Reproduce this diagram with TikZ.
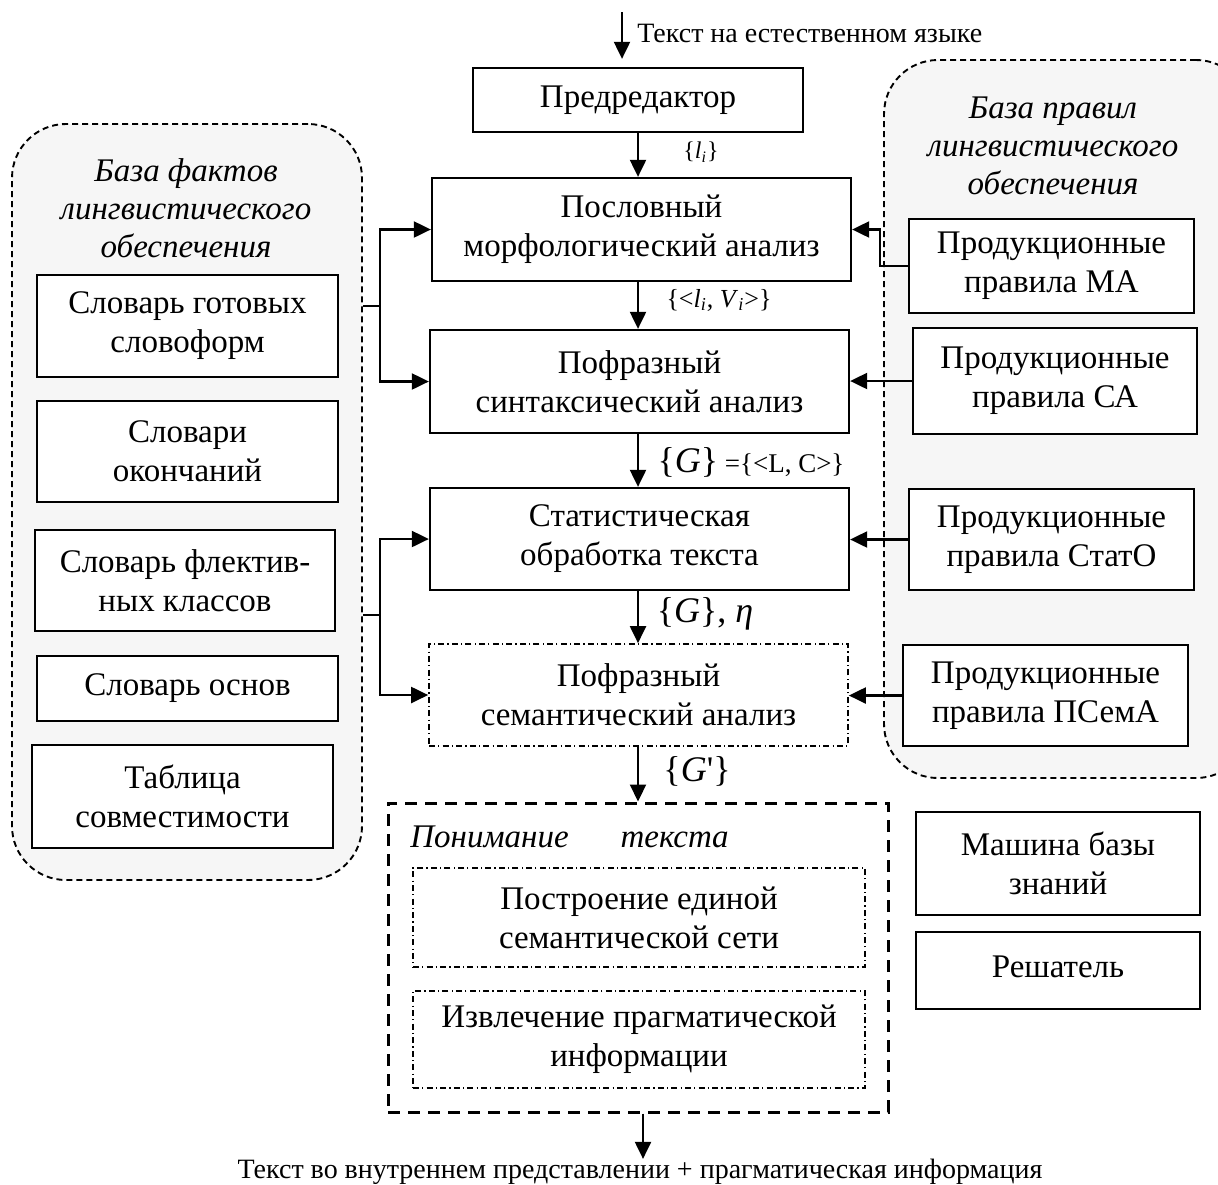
\documentclass[tikz,border=0pt]{standalone}
\usepackage{fontspec}
\setmainfont{Liberation Serif}
\usetikzlibrary{arrows.meta}
\begin{document}
\begin{tikzpicture}[x=0.5pt,y=-0.5pt,
  font=\fontsize{16.5}{19.5}\selectfont,
  blk/.style={draw, line width=1.15pt, fill=white, align=center, inner sep=0pt, rectangle},
  ddbox/.style={draw, line width=0.85pt, dash pattern=on 3pt off 1.6pt on 0.6pt off 1.6pt, fill=white, align=center, inner sep=0pt, rectangle},
  region/.style={draw, line width=0.95pt, dash pattern=on 3pt off 2pt, fill=gray!7, rounded corners=27pt, rectangle, inner sep=0pt},
  outer/.style={draw, line width=1.5pt, dash pattern=on 6pt off 4pt, fill=white, rectangle, inner sep=0pt},
  arr/.style={line width=1.05pt, -{Triangle[length=8.5pt,width=8pt]}},
  lnk/.style={line width=1.05pt},
  ttl/.style={font=\fontsize{16.5}{19}\selectfont\itshape, align=center, inner sep=0pt},
  lbl/.style={inner sep=0pt},
  small/.style={font=\fontsize{14}{16}\selectfont, inner sep=0pt},
]
\useasboundingbox (0,0) rectangle (1218,1184);
\fill[white] (0,0) rectangle (1218,1184);

% knowledge bases (shaded dashed regions)
\node[region, minimum width=175pt, minimum height=378pt] (lreg) at (187,502) {};
\node[region, minimum width=183pt, minimum height=359pt] (rreg) at (1067,419) {};

\node[ttl] (ltitle) at (186,208) {База фактов\\лингвистического\\обеспечения};
\node[ttl] (rtitle) at (1053,146) {База правил\\лингвистического\\обеспечения};

% dictionaries
\node[blk, minimum width=150.5pt, minimum height=51pt] (d1) at (187.5,326) {Словарь готовых\\словоформ};
\node[blk, minimum width=150.5pt, minimum height=50.5pt] (d2) at (187.5,451.5) {Словари\\окончаний};
\node[blk, minimum width=150pt, minimum height=50.5pt] (d3) at (185,580.5) {Словарь флектив-\\ных классов};
\node[blk, minimum width=150.5pt, minimum height=32.5pt] (d4) at (187.5,688.5) {Словарь основ};
\node[blk, minimum width=150.5pt, minimum height=51.5pt] (d5) at (182.5,796.5) {Таблица\\совместимости};

% production rules
\node[blk, minimum width=142.5pt, minimum height=47pt] (rma) at (1051.5,266) {Продукционные\\правила МА};
\node[blk, minimum width=142pt, minimum height=53pt] (rsa) at (1055,381) {Продукционные\\правила СА};
\node[blk, minimum width=142.5pt, minimum height=50.5pt] (rst) at (1051.5,539.5) {Продукционные\\правила СтатО};
\node[blk, minimum width=142.5pt, minimum height=50.5pt] (rsem) at (1045.5,695.5) {Продукционные\\правила ПСемА};

% knowledge machine and solver
\node[blk, minimum width=142pt, minimum height=51.5pt] (kbm) at (1058,863.5) {Машина базы\\знаний};
\node[blk, minimum width=142pt, minimum height=38.5pt] (solver) at (1058,970.5) {\raisebox{3.5pt}{Решатель}};

% main processing chain
\node[blk, minimum width=165pt, minimum height=32pt] (pre) at (638,100) {Предредактор};
\node[blk, minimum width=209.5pt, minimum height=51.5pt] (ma) at (641.5,229.5) {Пословный\\морфологический анализ};
\node[blk, minimum width=209.5pt, minimum height=51.5pt] (sa) at (639.5,381.5) {Пофразный\\синтаксический анализ};
\node[blk, minimum width=209.5pt, minimum height=51pt] (st) at (639.5,539) {Статистическая\\обработка текста};
\node[ddbox, minimum width=209.5pt, minimum height=51pt] (sem) at (638.5,695) {Пофразный\\семантический анализ};

% text understanding block
\node[outer, minimum width=250pt, minimum height=154.5pt] (und) at (638,957.5) {};
\node[ttl, anchor=west] (utitle) at (410,837) {Понимание\hspace{26pt}текста};
\node[ddbox, minimum width=226pt, minimum height=49.5pt] (u1) at (639,917.5) {Построение единой\\семантической сети};
\node[ddbox, minimum width=226pt, minimum height=48.5pt] (u2) at (639,1039.5) {Извлечение прагматической\\информации};

% input and output
\coordinate (intop) at (622,12);
\node[small, anchor=west] (intext) at (637,33) {Текст на естественном языке};
\node[small] (outtext) at (640,1172) {Текст во внутреннем представлении + прагматическая информация};

% vertical flow
\draw[arr] (intop) -- (intop |- pre.north) [shorten >=4pt];
\draw[arr] (pre.south) -- (pre.south |- ma.north);
\draw[arr] (pre.south |- ma.south) -- (pre.south |- sa.north);
\draw[arr] (pre.south |- sa.south) -- (pre.south |- st.north);
\draw[arr] (pre.south |- st.south) -- (pre.south |- sem.north);
\draw[arr] (pre.south |- sem.south) -- (pre.south |- und.north);
\draw[arr] (und.south) ++(5,0) coordinate (uo) -- (uo |- outtext.north);

% flow labels
\node[lbl, font=\fontsize{12}{14}\selectfont] (l1) at (701,152) {\{\textit{l}\textsubscript{\textit{i}}\}};
\node[lbl, font=\fontsize{13}{15}\selectfont] (l2) at (719,300) {\{<\textit{l}\textsubscript{\textit{i}}, \textit{V}\textsubscript{\textit{i}}>\}};
\node[lbl, font=\fontsize{13.5}{15}\selectfont] (l3) at (751,462) {{\fontsize{18}{18}\selectfont\{\textit{G}\}} =\{<L, C>\}};
\node[lbl, font=\fontsize{18}{20}\selectfont] (l4) at (705,614) {\{\textit{G}\}, \textit{η}};
\node[lbl, font=\fontsize{18}{20}\selectfont] (l5) at (697,771) {\{\textit{G}\textquotesingle\}};

% facts feed the analysers
\coordinate (j1) at (380,306);
\coordinate (j2) at (380,615);
\draw[lnk] (j1 -| lreg.east) -- (j1);
\draw[arr] (j1) |- (ma.west);
\draw[arr] (j1) |- (sa.west);
\draw[lnk] (j2 -| lreg.east) -- (j2);
\draw[arr] (j2) |- (st.west);
\draw[arr] (j2) |- (sem.west);

% rules feed the analysers
\coordinate (k1) at (880,229.5);
\draw[arr] (rma.west) -| (k1) -- (ma.east);
\draw[arr] (rsa.west) -- (rsa.west -| sa.east);
\draw[arr] (rst.west) -- (rst.west -| st.east);
\draw[arr] (rsem.west) -- (rsem.west -| sem.east);
\end{tikzpicture}
\end{document}
